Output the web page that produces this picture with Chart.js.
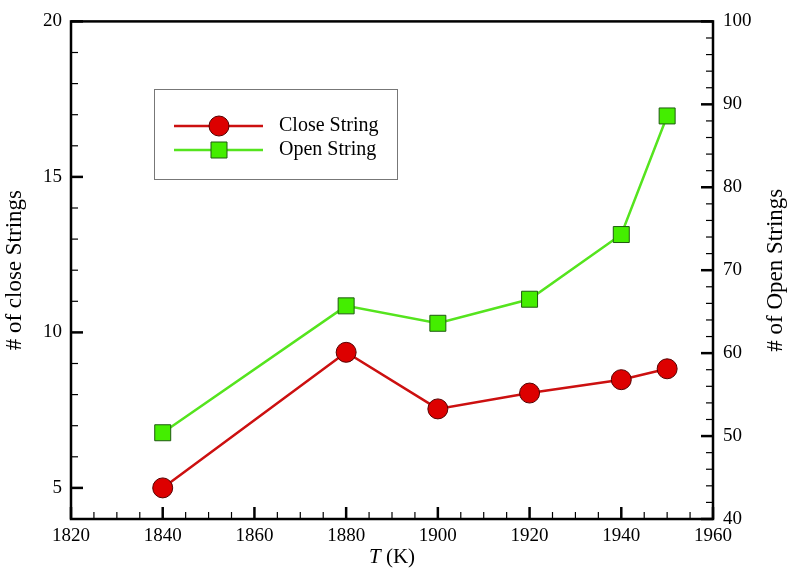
<!DOCTYPE html>
<html lang="en">
  <head>
    <meta charset="UTF-8" />
    <title>Strings vs T</title>
    <script src="https://cdn.jsdelivr.net/npm/chart.js"></script>
    <style>
      html, body { margin: 0; padding: 0; background: #fff; }
      #wrap { width: 789px; height: 568px; }
    </style>
  </head>
  <body>
    <div id="wrap"><canvas id="chart"></canvas></div>
    <script>
      // data
      const temps = [1840, 1880, 1900, 1920, 1940, 1950];
      const closeStrings = [5.0, 9.36, 7.54, 8.05, 8.48, 8.83];
      const openStrings = [50.4, 65.7, 63.6, 66.5, 74.3, 88.6];

      const xTitle = ["T", " (K)"];
      const leftTitle = "# of close Strings";
      const rightTitle = "# of Open Strings";
      const legendLabels = ["Close String", "Open String"];

      const serif = "'Liberation Serif', 'Times New Roman', serif";
      Chart.defaults.font.family = serif;
      Chart.defaults.font.size = 19;
      Chart.defaults.color = "#000";

      // inward ticks, frame, titles and legend box
      const decor = {
        id: "decor",
        beforeDatasetsDraw(chart) {
          const { ctx, chartArea: a, scales } = chart;
          ctx.save();
          ctx.strokeStyle = "#000";

          const drawTicks = (scale, side) => {
            scale.ticks.forEach((t) => {
              const major = t.label !== "" && t.label != null;
              const len = major ? 12 : 7;
              ctx.lineWidth = major ? 2.5 : 1.2;
              const p = scale.getPixelForValue(t.value);
              ctx.beginPath();
              if (side === "bottom") {
                ctx.moveTo(p, a.bottom);
                ctx.lineTo(p, a.bottom - len);
              } else if (side === "left") {
                ctx.moveTo(a.left, p);
                ctx.lineTo(a.left + len, p);
              } else {
                ctx.moveTo(a.right, p);
                ctx.lineTo(a.right - len, p);
              }
              ctx.stroke();
            });
          };
          drawTicks(scales.x, "bottom");
          drawTicks(scales.y, "left");
          drawTicks(scales.y2, "right");

          ctx.lineWidth = 2.5;
          ctx.strokeRect(a.left, a.top, a.right - a.left, a.bottom - a.top);
          ctx.restore();
        },
        afterDraw(chart) {
          const { ctx, chartArea: a } = chart;
          const midY = (a.top + a.bottom) / 2;
          const midX = (a.left + a.right) / 2;
          ctx.save();
          ctx.fillStyle = "#000";
          ctx.textBaseline = "middle";
          ctx.textAlign = "center";
          ctx.font = "23px " + serif;

          // y titles, both reading bottom to top
          ctx.save();
          ctx.translate(15, midY);
          ctx.rotate(-Math.PI / 2);
          ctx.fillText(leftTitle, 0, 0);
          ctx.restore();

          ctx.save();
          ctx.translate(776, midY);
          ctx.rotate(-Math.PI / 2);
          ctx.fillText(rightTitle, 0, 0);
          ctx.restore();

          // x title with italic T
          ctx.textAlign = "left";
          ctx.font = "italic 21px " + serif;
          const w1 = ctx.measureText(xTitle[0]).width;
          ctx.font = "21px " + serif;
          const w2 = ctx.measureText(xTitle[1]).width;
          const x0 = midX - (w1 + w2) / 2;
          ctx.font = "italic 21px " + serif;
          ctx.fillText(xTitle[0], x0, 557);
          ctx.font = "21px " + serif;
          ctx.fillText(xTitle[1], x0 + w1, 557);

          // legend box
          ctx.strokeStyle = "#777";
          ctx.lineWidth = 1;
          ctx.strokeRect(154.5, 89.5, 243, 90);
          const rows = [126, 150];
          chart.data.datasets.forEach((ds, i) => {
            const y = rows[i];
            ctx.strokeStyle = ds.borderColor;
            ctx.lineWidth = ds.borderWidth;
            ctx.beginPath();
            ctx.moveTo(174, y);
            ctx.lineTo(263, y);
            ctx.stroke();
            ctx.fillStyle = ds.pointBackgroundColor;
            ctx.strokeStyle = ds.pointBorderColor;
            ctx.lineWidth = 1;
            ctx.beginPath();
            if (ds.pointStyle === "circle") {
              ctx.arc(219, y, 10, 0, Math.PI * 2);
            } else {
              ctx.rect(211, y - 8, 16, 16);
            }
            ctx.fill();
            ctx.stroke();
            ctx.fillStyle = "#000";
            ctx.font = "20px " + serif;
            ctx.textBaseline = "middle";
            ctx.fillText(legendLabels[i], 279, y);
          });
          ctx.restore();
        },
      };

      const ctx = document.getElementById("chart").getContext("2d");
      new Chart(ctx, {
        type: "line",
        data: {
          datasets: [
            {
              label: legendLabels[0],
              data: temps.map((t, i) => ({ x: t, y: closeStrings[i] })),
              yAxisID: "y",
              borderColor: "#cc1010",
              borderWidth: 2.5,
              pointStyle: "circle",
              pointRadius: 10,
              pointHoverRadius: 10,
              pointBackgroundColor: "#dd0000",
              pointBorderColor: "#550000",
              pointBorderWidth: 1,
              tension: 0,
            },
            {
              label: legendLabels[1],
              data: temps.map((t, i) => ({ x: t, y: openStrings[i] })),
              yAxisID: "y2",
              borderColor: "#55e41e",
              borderWidth: 2.5,
              pointStyle: "rect",
              pointRadius: 11.3,
              pointHoverRadius: 11.3,
              pointBackgroundColor: "#44ee00",
              pointBorderColor: "#1f5a10",
              pointBorderWidth: 1,
              tension: 0,
            },
          ],
        },
        options: {
          responsive: true,
          maintainAspectRatio: false,
          animation: false,
          events: [],
          layout: { padding: { top: 10, left: 0, right: 0, bottom: 0 } },
          plugins: { legend: { display: false }, tooltip: { enabled: false } },
          scales: {
            x: {
              type: "linear",
              min: 1820,
              max: 1960,
              afterFit: (s) => { s.height = 49; },
              grid: { display: false, drawTicks: false },
              border: { display: false },
              ticks: {
                stepSize: 5,
                autoSkip: false,
                maxRotation: 0,
                padding: 6,
                callback: (v) => (v % 20 === 0 ? String(v) : ""),
              },
            },
            y: {
              position: "left",
              min: 4,
              max: 20,
              afterFit: (s) => { s.width = 71; },
              grid: { display: false, drawTicks: false },
              border: { display: false },
              ticks: {
                stepSize: 1,
                autoSkip: false,
                padding: 9,
                callback: (v) => (v % 5 === 0 ? String(v) : ""),
              },
            },
            y2: {
              position: "right",
              min: 40,
              max: 100,
              afterFit: (s) => { s.width = 76; },
              grid: { display: false, drawTicks: false },
              border: { display: false },
              ticks: {
                stepSize: 2,
                autoSkip: false,
                padding: 10,
                callback: (v) => (v % 10 === 0 ? String(v) : ""),
              },
            },
          },
        },
        plugins: [decor],
      });
    </script>
  </body>
</html>
